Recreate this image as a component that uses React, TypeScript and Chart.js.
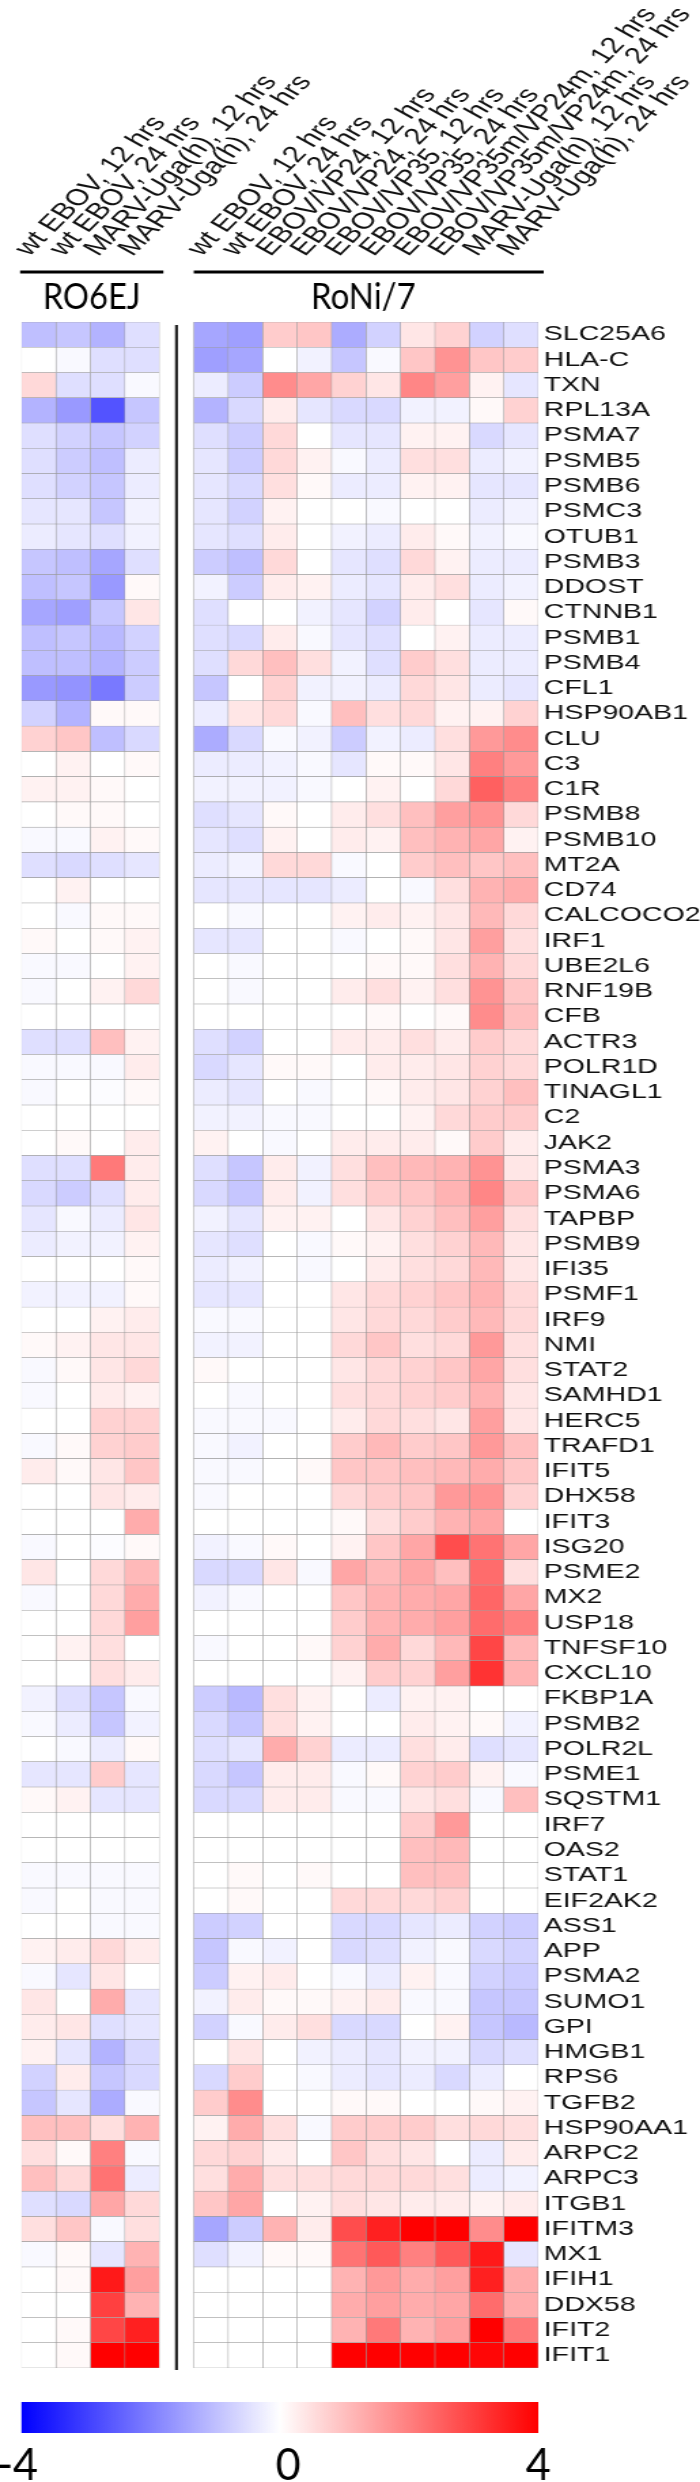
import { useEffect, useRef } from 'react';
import { Chart, registerables } from 'chart.js';

Chart.register(...registerables);

// ---------------- data ----------------
const genes = [
  'SLC25A6', 'HLA-C', 'TXN', 'RPL13A', 'PSMA7', 'PSMB5', 'PSMB6', 'PSMC3', 'OTUB1', 'PSMB3',
  'DDOST', 'CTNNB1', 'PSMB1', 'PSMB4', 'CFL1', 'HSP90AB1', 'CLU', 'C3', 'C1R', 'PSMB8',
  'PSMB10', 'MT2A', 'CD74', 'CALCOCO2', 'IRF1', 'UBE2L6', 'RNF19B', 'CFB', 'ACTR3', 'POLR1D',
  'TINAGL1', 'C2', 'JAK2', 'PSMA3', 'PSMA6', 'TAPBP', 'PSMB9', 'IFI35', 'PSMF1', 'IRF9',
  'NMI', 'STAT2', 'SAMHD1', 'HERC5', 'TRAFD1', 'IFIT5', 'DHX58', 'IFIT3', 'ISG20', 'PSME2',
  'MX2', 'USP18', 'TNFSF10', 'CXCL10', 'FKBP1A', 'PSMB2', 'POLR2L', 'PSME1', 'SQSTM1', 'IRF7',
  'OAS2', 'STAT1', 'EIF2AK2', 'ASS1', 'APP', 'PSMA2', 'SUMO1', 'GPI', 'HMGB1', 'RPS6',
  'TGFB2', 'HSP90AA1', 'ARPC2', 'ARPC3', 'ITGB1', 'IFITM3', 'MX1', 'IFIH1', 'DDX58', 'IFIT2',
  'IFIT1',
];

const columnLabels = [
  'wt EBOV, 12 hrs', 'wt EBOV, 24 hrs', 'MARV-Uga(h), 12 hrs', 'MARV-Uga(h), 24 hrs',
  'wt EBOV, 12 hrs', 'wt EBOV, 24 hrs', 'EBOV/VP24, 12 hrs', 'EBOV/VP24, 24 hrs',
  'EBOV/VP35, 12 hrs', 'EBOV/VP35, 24 hrs', 'EBOV/VP35m/VP24m, 12 hrs', 'EBOV/VP35m/VP24m, 24 hrs',
  'MARV-Uga(h), 12 hrs', 'MARV-Uga(h), 24 hrs',
];

const groupNames = ['RO6EJ', 'RoNi/7'];
const colorbarTicks = [-4, 0, 4];

// log2 fold-change values, one array per column (rows follow `genes`)
const ro6ej_wt12 = [
  -1.0, 0, 0.6, -1.2, -0.5, -0.5, -0.5, -0.4, -0.3, -0.9,
  -1.0, -1.4, -1.0, -1.0, -1.6, -0.7, 0.7, 0, 0.2, 0,
  -0.1, -0.5, 0, 0, 0.1, -0.1, -0.1, 0, -0.5, -0.1,
  -0.1, 0, 0, -0.5, -0.6, -0.4, -0.3, 0, -0.2, 0,
  0.1, -0.1, -0.1, 0, -0.1, 0.3, 0, 0, -0.1, 0.4,
  -0.1, 0, 0, 0, -0.2, -0.1, 0, -0.4, 0.1, 0,
  0, -0.1, -0.1, 0, 0.2, -0.1, 0.4, 0.3, 0.2, -0.7,
  -0.9, 1.0, 0.5, 1.0, -0.5, 0.5, -0.1, 0, 0, 0,
  0,
];
const ro6ej_wt24 = [
  -0.9, -0.1, -0.5, -1.6, -0.7, -0.8, -0.7, -0.4, -0.4, -1.0,
  -0.9, -1.5, -0.9, -1.0, -1.7, -1.2, 0.9, 0.2, 0.2, 0.1,
  -0.1, -0.6, 0.2, -0.1, 0, -0.1, 0, 0, -0.5, -0.1,
  0, 0, 0.1, -0.5, -0.8, -0.1, -0.2, 0, -0.2, 0,
  0.2, 0.1, 0, 0, 0.1, 0.1, 0, 0, 0, 0,
  0, 0, 0.2, 0, -0.5, -0.3, -0.1, -0.4, 0.2, 0,
  0, -0.1, 0, 0, 0.3, -0.4, 0, 0.4, -0.4, 0.3,
  -0.4, 1.0, 0.1, 0.6, -0.6, 0.9, 0.1, 0.1, 0, 0.1,
  0.1,
];
const ro6ej_marv12 = [
  -1.2, -0.5, -0.5, -2.7, -0.9, -1.0, -0.9, -0.9, -0.5, -1.4,
  -1.6, -0.9, -1.1, -1.2, -2.1, 0.1, -1.0, 0, 0.1, 0.1,
  0.2, -0.5, 0, 0.1, 0.1, 0, 0.2, 0, 1.0, -0.1,
  -0.05, 0, 0, 2.1, -0.5, -0.3, -0.2, 0, -0.2, 0.2,
  0.4, 0.4, 0.3, 0.7, 0.7, 0.4, 0.4, 0, -0.05, 0.6,
  0.6, 0.6, 0.5, 0.5, -0.9, -0.9, -0.3, 0.8, -0.4, 0,
  0, -0.1, -0.1, -0.1, 0.6, 0.4, 1.3, -0.5, -1.2, -0.9,
  -1.3, 0.5, 2.0, 2.2, 1.4, -0.1, -0.4, 3.6, 3.0, 2.9,
  4,
];
const ro6ej_marv24 = [
  -0.5, -0.5, -0.1, -0.9, -0.7, -0.3, -0.3, -0.2, -0.2, -0.5,
  0.1, 0.4, -0.7, -0.8, -0.8, 0.1, -0.6, 0.1, 0, 0,
  0.1, -0.4, 0, 0.1, 0.2, 0.2, 0.6, 0, 0.2, 0.3,
  0.1, 0, 0.3, 0.3, 0.3, 0.4, 0.2, 0.1, 0.1, 0.3,
  0.4, 0.6, 0.2, 0.7, 0.8, 0.9, 0.3, 1.3, 0.1, 1.1,
  1.3, 1.5, 0, 0.3, -0.1, -0.2, 0.1, -0.4, -0.4, 0,
  0, -0.1, -0.1, -0.1, 0.3, 0, -0.4, -0.4, -0.6, -0.6,
  -0.1, 1.2, -0.1, -0.3, 0.6, 0.5, 1.2, 1.5, 1.2, 3.5,
  4,
];
const roni_wt12 = [
  -1.4, -1.5, -0.3, -1.2, -0.5, -0.4, -0.4, -0.4, -0.4, -0.8,
  -0.2, -0.5, -0.5, -0.5, -0.9, -0.3, -1.3, -0.3, -0.2, -0.5,
  -0.4, -0.3, -0.4, 0, -0.4, 0, 0, 0, -0.5, -0.6,
  -0.3, -0.2, 0.2, -0.5, -0.6, -0.2, -0.4, -0.3, -0.4, -0.1,
  -0.2, 0.1, 0, -0.1, -0.1, -0.1, -0.1, 0, -0.2, -0.6,
  -0.2, 0, -0.1, 0, -0.8, -0.6, -0.5, -0.6, -0.6, 0,
  0, 0, 0, -0.8, -0.9, -0.8, -0.2, -0.7, 0, -0.6,
  0.8, 0.2, 0.6, 0.5, 0.9, -1.4, -0.5, 0, 0, 0,
  0,
];
const roni_wt24 = [
  -1.5, -1.4, -0.8, -0.6, -0.8, -0.8, -0.6, -0.7, -0.5, -1.0,
  -0.8, 0, -0.6, 0.6, 0, 0.4, -0.6, -0.3, -0.2, -0.4,
  -0.5, -0.2, -0.4, -0.1, -0.4, -0.1, -0.1, 0, -0.7, -0.4,
  -0.4, -0.2, 0, -0.9, -0.9, -0.4, -0.5, -0.2, -0.4, -0.1,
  -0.2, 0, -0.1, -0.1, -0.2, -0.1, 0, 0, -0.1, -0.6,
  -0.1, 0, 0, 0, -1.1, -0.9, -0.4, -0.9, -0.6, 0,
  0, 0.1, 0.1, -0.7, -0.1, 0.2, 0.3, -0.1, 0.4, 0.8,
  1.8, 1.3, 0.7, 1.3, 1.4, -0.8, -0.2, 0, 0, 0,
  0,
];
const roni_vp24_12 = [
  0.8, 0, 1.8, 0.3, 0.6, 0.6, 0.5, 0.2, 0.3, 0.6,
  0.3, 0, 0.3, 1.0, 0.7, 0.6, -0.1, -0.2, -0.2, 0.1,
  0.2, 0.6, -0.4, 0, 0, 0, 0, 0, 0, 0.1,
  0, -0.1, -0.1, 0.3, 0.3, 0.2, 0, 0, 0, 0,
  0, 0, 0, -0.1, 0, 0, 0, 0, 0.1, 0.4,
  0, 0, 0, 0, 0.5, 0.5, 1.3, 0.3, 0.3, 0,
  0, 0, 0, 0, -0.2, 0.3, 0.1, 0.3, 0, 0,
  0, 0.5, 0.3, 0.5, 0, 1.2, 0.1, 0, 0, 0,
  0,
];
const roni_vp24_24 = [
  0.9, -0.2, 1.4, -0.4, 0, 0.2, 0.1, 0, 0, 0,
  0.2, -0.2, -0.1, 0.5, -0.2, -0.1, -0.2, -0.1, -0.1, 0,
  0, 0.6, -0.4, 0, 0, 0, 0, 0, 0, 0.1,
  -0.1, -0.1, 0, -0.2, -0.2, 0.2, -0.1, -0.1, 0, 0,
  0, 0, 0, 0, 0, 0.1, 0, 0, 0, -0.1,
  0, 0, 0.1, 0, 0.2, 0.2, 0.7, 0.3, 0.3, 0,
  0, 0.1, 0, 0, 0, 0, 0.1, 0.5, -0.2, -0.1,
  0, -0.1, 0, 0.5, 0.2, 0.3, 0.1, 0, 0, 0,
  0,
];
const roni_vp35_12 = [
  -1.3, -0.9, 0.7, -0.6, -0.4, -0.1, -0.3, 0, -0.2, -0.4,
  -0.3, -0.4, -0.4, -0.2, -0.2, 1.0, -0.8, -0.4, 0, 0.3,
  0.3, -0.1, -0.3, 0.2, -0.1, 0, 0.3, 0, 0.3, 0,
  0, 0, 0.3, 0.5, 0.5, 0, 0.1, 0, 0.4, 0.4,
  0.6, 0.4, 0.5, 0.3, 0.8, 0.9, 0.6, 0.1, 0.2, 1.4,
  0.9, 0.8, 0.7, 0.2, 0, 0, -0.3, -0.1, -0.1, 0,
  0, 0, 0.6, -0.6, -0.6, -0.1, 0.2, -0.6, -0.3, -0.3,
  0.1, 0.8, 0.9, 0.6, 0.5, 2.8, 2.2, 1.2, 1.3, 1.2,
  4,
];
const roni_vp35_24 = [
  -0.7, -0.1, 0.4, -0.6, -0.4, -0.3, -0.3, -0.1, -0.3, -0.5,
  -0.4, -0.7, -0.5, -0.5, -0.3, 0.5, -0.2, 0.1, 0.2, 0.5,
  0.2, 0, 0, 0.3, 0, 0.1, 0.5, 0.1, 0.3, 0.3,
  0.1, 0, 0.3, 1.0, 0.8, 0.4, 0.2, 0.3, 0.6, 0.6,
  0.9, 0.6, 0.6, 0.6, 1.1, 0.9, 0.8, 0.5, 0.9, 1.1,
  1.2, 1.2, 1.3, 0.8, -0.3, 0, -0.3, 0.1, -0.1, 0,
  0, 0, 0.6, -0.6, -0.5, -0.3, 0.3, -0.6, -0.4, -0.4,
  0.1, 0.8, 0.5, 0.6, 0.4, 3.5, 2.6, 1.6, 1.5, 2.1,
  4,
];
const roni_vp35m24m_12 = [
  0.4, 0.9, 1.9, -0.2, 0.2, 0.5, 0.2, 0, 0.3, 0.6,
  0.3, 0.3, 0, 0.8, 0.6, 0.6, -0.3, 0.1, 0, 1.0,
  1.0, 0.8, -0.1, 0.2, 0.1, 0.1, 0.2, 0, 0.5, 0.3,
  0.3, 0.2, 0.3, 1.1, 0.9, 0.7, 0.5, 0.5, 0.7, 0.6,
  0.5, 0.7, 0.7, 0.5, 0.8, 1.0, 0.9, 0.8, 1.4, 1.4,
  1.3, 1.3, 0.6, 0.7, 0.2, 0.3, 0.5, 0.7, 0.4, 0.8,
  1.0, 1.0, 0.6, -0.4, -0.2, 0.2, -0.1, 0, -0.2, -0.3,
  0, 0.8, 0.4, 0.6, 0.3, 4, 2.0, 1.3, 1.3, 1.2,
  4,
];
const roni_vp35m24m_24 = [
  0.7, 1.7, 1.5, -0.2, 0.2, 0.5, 0.2, 0, 0.1, 0.2,
  0.5, 0, 0.2, 0.5, 0.4, 0.2, 0.5, 0.4, 0.6, 1.5,
  1.2, 1.0, 0.5, 0.4, 0.4, 0.5, 0.5, 0.1, 0.3, 0.4,
  0.4, 0.6, 0.1, 1.2, 1.2, 1.0, 0.7, 0.6, 0.9, 0.8,
  0.6, 0.9, 0.8, 0.4, 0.9, 1.1, 1.6, 1.2, 2.8, 1.0,
  1.4, 1.5, 1.1, 1.5, 0.2, 0.2, 0.3, 0.8, 0.5, 1.6,
  1.1, 1.0, 0.7, -0.3, -0.1, -0.1, -0.1, 0.2, -0.2, -0.6,
  0, 0.5, 0, 0.5, 0.3, 4, 2.6, 1.5, 1.4, 1.5,
  4,
];
const roni_marv12 = [
  -0.7, 0.9, 0.2, 0.1, -0.6, -0.3, -0.4, -0.3, -0.2, -0.3,
  -0.3, -0.4, -0.3, -0.3, -0.3, 0.2, 1.6, 2.0, 2.5, 1.7,
  1.4, 0.9, 1.2, 1.1, 1.5, 1.2, 1.7, 1.8, 0.8, 0.7,
  0.7, 0.8, 0.8, 1.7, 1.9, 1.5, 1.1, 1.1, 1.2, 1.1,
  1.6, 1.4, 1.2, 1.5, 1.6, 1.3, 1.7, 1.4, 2.2, 2.3,
  2.4, 2.3, 2.9, 3.2, 0, 0.1, -0.5, 0.2, -0.1, 0,
  0, 0, 0, -0.7, -0.6, -0.7, -0.9, -0.9, -0.6, -0.3,
  0.1, 0.6, -0.3, -0.3, 0.2, 1.8, 3.6, 3.5, 2.3, 4,
  3.9,
];
const roni_marv24 = [
  -0.5, 0.8, -0.4, 0.7, -0.4, -0.2, -0.4, -0.2, -0.1, -0.3,
  -0.2, 0.1, -0.3, -0.3, -0.4, 0.7, 1.8, 1.6, 2.0, 0.6,
  0.2, 1.0, 1.3, 0.6, 0.5, 0.6, 0.9, 1.0, 0.6, 0.6,
  1.0, 0.8, 0.3, 0.4, 0.9, 0.5, 0.4, 0.4, 0.6, 0.6,
  0.5, 0.5, 0.4, 0.4, 1.0, 0.9, 0.7, 0, 1.4, 0.5,
  1.4, 2.0, 1.1, 1.2, 0, -0.2, -0.4, -0.1, 1.0, 0,
  0, 0, 0, -0.8, -0.7, -0.8, -0.9, -1.1, -0.5, 0,
  0.2, 0.5, 0.3, -0.2, 0.3, 4, -0.4, 1.3, 1.3, 2.1,
  4,
];

const columns = [
  ro6ej_wt12, ro6ej_wt24, ro6ej_marv12, ro6ej_marv24,
  roni_wt12, roni_wt24, roni_vp24_12, roni_vp24_24, roni_vp35_12, roni_vp35_24,
  roni_vp35m24m_12, roni_vp35m24m_24, roni_marv12, roni_marv24,
];

// ---------------- layout (canvas units; canvas is stretched horizontally to 700px) ----------------
const CANVAS_W = 515;
const CANVAS_H = 2482;
const DISPLAY_W = 700;
const columnSlots = [0, 1, 2, 3, 5, 6, 7, 8, 9, 10, 11, 12, 13, 14];
const groupSpans = [[0, 4], [5, 15]];
const SANS = '"Liberation Sans", Arial, Helvetica, sans-serif';
const NARROW = 'Lato, "Liberation Sans Narrow", "Liberation Sans", Arial, sans-serif';

function colorFor(v: number): string {
  const t = Math.max(-1, Math.min(1, v / 4));
  if (t < 0) {
    const c = Math.round(255 * (1 + t));
    return `rgb(${c},${c},255)`;
  }
  const c = Math.round(255 * (1 - t));
  return `rgb(255,${c},${c})`;
}

const decorPlugin = {
  id: 'heatDecor',
  afterDraw(chart: any) {
    const { ctx, chartArea } = chart;
    const xs = chart.scales.x;
    const px = (v: number) => xs.getPixelForValue(v);
    ctx.save();

    // rotated column headers
    ctx.fillStyle = '#111';
    ctx.font = `23px ${SANS}`;
    ctx.textAlign = 'left';
    ctx.textBaseline = 'alphabetic';
    columnLabels.forEach((lab, j) => {
      const cx = px(columnSlots[j] + 0.5);
      ctx.save();
      ctx.translate(cx - 7, 257);
      ctx.rotate((-53 * Math.PI) / 180);
      ctx.fillText(lab, 0, 0);
      ctx.restore();
    });

    // group lines + names
    ctx.strokeStyle = '#000';
    ctx.lineWidth = 3;
    groupSpans.forEach(([a, b], g) => {
      const x0 = px(a) - (g === 0 ? 1 : 0);
      const x1 = px(b) + (g === 0 ? 3 : 4);
      ctx.beginPath();
      ctx.moveTo(x0, 272);
      ctx.lineTo(x1, 272);
      ctx.stroke();
      const name = groupNames[g];
      ctx.font = `37px ${NARROW}`;
      const w = ctx.measureText(name).width;
      const target = g === 0 ? 72 : 77;
      const sx = target / w;
      ctx.save();
      ctx.translate((px(a) + px(b)) / 2 + (g === 0 ? 1 : -2), 309);
      ctx.scale(sx, 1);
      ctx.textAlign = 'center';
      ctx.fillStyle = '#000';
      ctx.fillText(name, 0, 0);
      ctx.restore();
    });

    // vertical divider between the two cell lines
    ctx.strokeStyle = '#222';
    ctx.lineWidth = 2.2;
    ctx.beginPath();
    ctx.moveTo(px(4.5), chartArea.top + 3);
    ctx.lineTo(px(4.5), chartArea.bottom + 2);
    ctx.stroke();

    // colour bar
    const bx0 = px(0);
    const bx1 = px(15);
    const by0 = 2402;
    const by1 = 2433;
    const grad = ctx.createLinearGradient(bx0, 0, bx1, 0);
    grad.addColorStop(0, colorFor(-4));
    grad.addColorStop(0.5, colorFor(0));
    grad.addColorStop(1, colorFor(4));
    ctx.fillStyle = grad;
    ctx.fillRect(bx0, by0, bx1 - bx0, by1 - by0);

    ctx.font = `44px ${NARROW}`;
    const w4 = ctx.measureText('4').width;
    const sx4 = 18.5 / w4;
    ctx.fillStyle = '#000';
    ctx.textAlign = 'center';
    colorbarTicks.forEach((t) => {
      const x = bx0 + ((t + 4) / 8) * (bx1 - bx0) + (t === 0 ? 6 : t < 0 ? -3 : 0);
      ctx.save();
      ctx.translate(x, 2480);
      ctx.scale(sx4, 1);
      ctx.fillText(String(t), 0, 0);
      ctx.restore();
    });

    ctx.restore();
  },
};

export default function App() {
  const ref = useRef<HTMLCanvasElement>(null);

  useEffect(() => {
    const canvas = ref.current;
    if (!canvas) return;
    const chart = new Chart(canvas, {
      type: 'bar',
      data: {
        labels: genes,
        datasets: columns.map((vals, j) => ({
          label: columnLabels[j],
          data: vals.map(() => [columnSlots[j], columnSlots[j] + 1]),
          backgroundColor: vals.map(colorFor),
          borderColor: '#9c9c9c',
          borderWidth: 0.55,
          borderSkipped: false,
          barPercentage: 1,
          categoryPercentage: 1,
        })),
      } as any,
      options: {
        indexAxis: 'y',
        responsive: false,
        animation: false,
        events: [],
        devicePixelRatio: 1,
        layout: { padding: { left: 15.8, top: 322, bottom: CANVAS_H - 2368, right: 0 } },
        plugins: { legend: { display: false }, tooltip: { enabled: false } },
        scales: {
          x: { type: 'linear', min: 0, max: 15, display: false, stacked: false },
          y: {
            type: 'category',
            position: 'right',
            stacked: true,
            offset: true,
            grid: { display: false, drawTicks: false },
            border: { display: false },
            ticks: {
              autoSkip: false,
              padding: 4,
              color: '#111',
              font: { family: SANS, size: 21 },
            },
            afterFit: (s: any) => {
              s.width = 119;
            },
          },
        },
      } as any,
      plugins: [decorPlugin],
    });
    return () => chart.destroy();
  }, []);

  return (
    <div style={{ position: 'absolute', left: 0, top: 0, width: DISPLAY_W, height: CANVAS_H, background: '#fff' }}>
      <canvas
        ref={ref}
        width={CANVAS_W}
        height={CANVAS_H}
        style={{ width: `${DISPLAY_W}px`, height: `${CANVAS_H}px`, display: 'block' }}
      />
    </div>
  );
}
